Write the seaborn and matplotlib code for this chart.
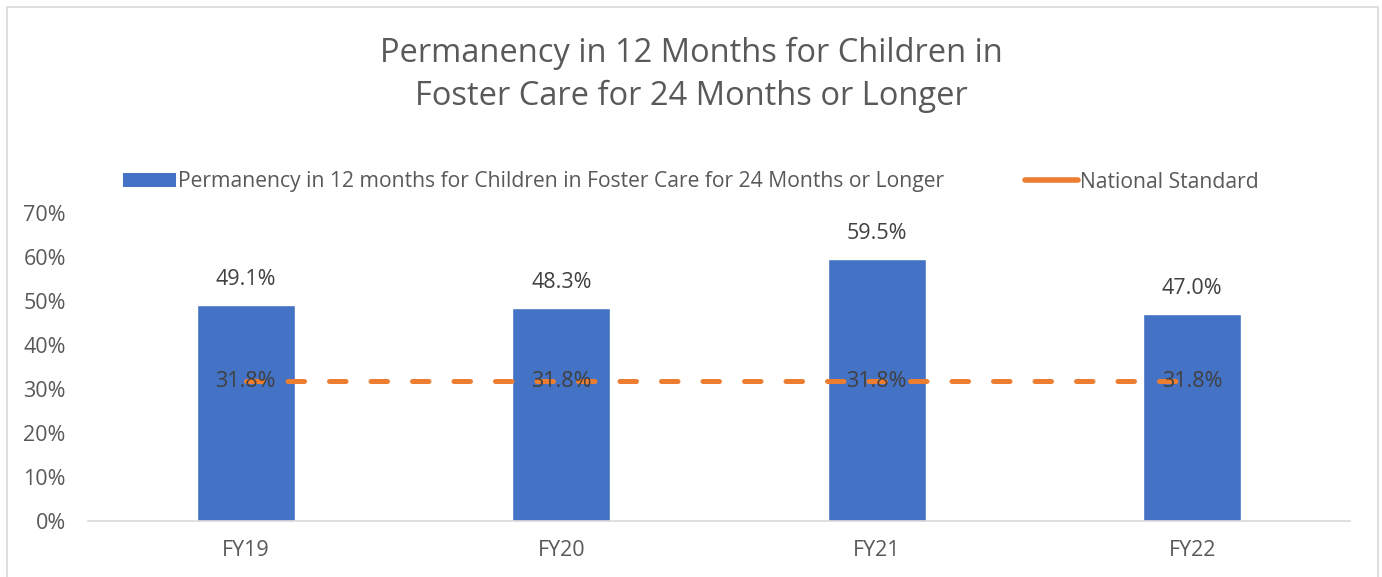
import numpy as np
import pandas as pd
import seaborn as sns
from matplotlib import pyplot as plt
from matplotlib.patches import Patch, Rectangle
from matplotlib.lines import Line2D
from matplotlib.ticker import PercentFormatter

years = ["FY19", "FY20", "FY21", "FY22"]
permanency = [49.1, 48.3, 59.5, 47.0]
national_standard = [31.8, 31.8, 31.8, 31.8]

bar_label = "Permanency in 12 months for Children in Foster Care for 24 Months or Longer"
line_label = "National Standard"
title = "Permanency in 12 Months for Children in\nFoster Care for 24 Months or Longer"

blue = "#4472C4"
orange = "#ED7D31"
grey = "#595959"

sns.set_theme(style="white")
plt.rcParams['font.family'] = ['Open Sans', 'DejaVu Sans']

df = pd.DataFrame({"year": years, "value": permanency, "standard": national_standard})

fig = plt.figure(figsize=(13.82, 5.77), dpi=100)
ax = fig.add_axes([88 / 1382, 56 / 577, 1262 / 1382, 308 / 577])

sns.barplot(data=df, x="year", y="value", color=blue, width=0.31, saturation=1, ax=ax)
sns.pointplot(data=df, x="year", y="standard", color=orange, markers="", errorbar=None, ax=ax)
for ln in ax.lines:
    if len(ln.get_xdata()) == len(years):
        ln.set_linewidth(3.6)
        ln.set_linestyle((0, (3.3, 5.0)))
        ln.set_dash_capstyle("round")
        ln.set_zorder(3)

for i, v in enumerate(permanency):
    ax.annotate(f"{v:.1f}%", (i, v), xytext=(0, 11), textcoords="offset points",
                ha="center", va="bottom", fontsize=15.5, color="#404040")
for i, v in enumerate(national_standard):
    ax.text(i, v, f"{v:.1f}%", ha="center", va="center", fontsize=15.5,
            color="#404040", zorder=4)

ax.set_ylim(0, 70)
ax.set_xlim(-0.5, 3.5)
ax.set_yticks(range(0, 71, 10))
ax.yaxis.set_major_formatter(PercentFormatter(decimals=0))
ax.set_xlabel("")
ax.set_ylabel("")
ax.tick_params(axis="both", length=0, labelsize=15.5, labelcolor=grey)
ax.tick_params(axis="y", pad=16)
ax.tick_params(axis="x", pad=14)
for s in ["top", "right", "left"]:
    ax.spines[s].set_visible(False)
ax.spines["bottom"].set_color("#D9D9D9")
ax.spines["bottom"].set_linewidth(1.2)

handles = [Patch(facecolor=blue, edgecolor="none"),
           Line2D([0], [0], color=orange, lw=4, solid_capstyle="round")]
fig.legend(handles, [bar_label, line_label], loc="center", bbox_to_anchor=(0.5, 395 / 577),
           ncol=2, frameon=False, fontsize=15.2, labelcolor=grey, handlelength=2.5,
           handleheight=0.6, handletextpad=0.12, columnspacing=3.8)

fig.text(0.5, 1 - 75 / 577, title, ha="center", va="center",
         fontsize=23.5, color=grey, linespacing=1.4)

fig.patches.append(Rectangle((7 / 1382, -0.1), 1371 / 1382, 1.1 - 7 / 577,
                             transform=fig.transFigure, fill=False,
                             edgecolor="#D9D9D9", lw=1.2))

fig.savefig("out.png", dpi=100)
